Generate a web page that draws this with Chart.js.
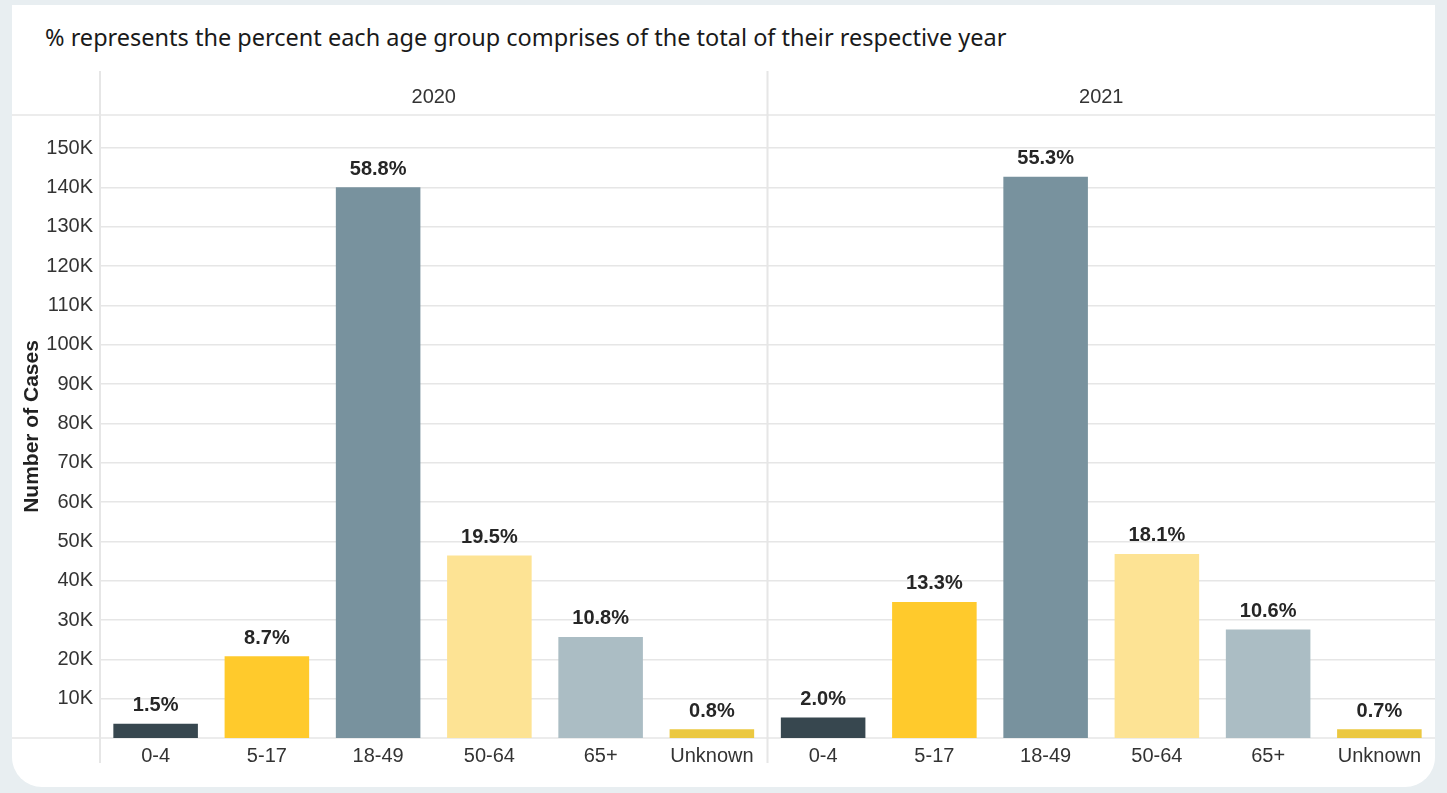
<!DOCTYPE html>
<html>
<head>
<meta charset="utf-8">
<script src="https://cdn.jsdelivr.net/npm/chart.js@4.4.1/dist/chart.umd.min.js"></script>
<style>
  html, body { margin: 0; padding: 0; width: 1447px; height: 793px; overflow: hidden; background: #e8eef1; }
  #card { position: absolute; left: 12px; top: 5px; width: 1423px; height: 782px; background: #fff; border-radius: 0 0 30px 30px; }
  #note { position: absolute; left: 33px; top: 16px; line-height: 32px; font-family: 'Noto Sans', sans-serif; font-size: 23.5px; color: #1a1a1a; white-space: nowrap; }
  #wrap { position: absolute; left: 0; top: 66px; width: 1423px; height: 700px; }
</style>
</head>
<body>
<div id="card">
  <div id="note">% represents the percent each age group comprises of the total of their respective year</div>
  <div id="wrap"><canvas id="ageChart" width="1423" height="700"></canvas></div>
</div>
<script>
const years = ['2020', '2021'];
const ageGroups = ['0-4', '5-17', '18-49', '50-64', '65+', 'Unknown'];
const cases2020 = [3600, 20800, 140000, 46400, 25700, 2200];
const cases2021 = [5200, 34600, 142700, 46800, 27600, 2200];
const pct2020 = [1.5, 8.7, 58.8, 19.5, 10.8, 0.8];
const pct2021 = [2.0, 13.3, 55.3, 18.1, 10.6, 0.7];
const yTicks = [10000, 20000, 30000, 40000, 50000, 60000, 70000, 80000,
                90000, 100000, 110000, 120000, 130000, 140000, 150000];

const ageColors = [
  '#37474f', // 0-4 slate
  '#ffca2c', // 5-17 yellow
  '#78929e', // 18-49 blue grey
  '#fde394', // 50-64 pale yellow
  '#abbdc4', // 65+ light grey
  '#ebc841'  // unknown mustard
];

const GRID = '#e6e6e6';
const TEXT = '#333';
const FONT = "'Liberation Sans', Arial, sans-serif";

const labels = ageGroups.concat(ageGroups);
const values = cases2020.concat(cases2021);
const pcts = pct2020.concat(pct2021);

// panel frame: header rule, baseline and the two vertical dividers
const panelLines = {
  id: 'panelLines',
  beforeDatasetsDraw(chart) {
    const {ctx, chartArea: a} = chart;
    const x = chart.scales.x;
    const mid = (x.getPixelForValue(ageGroups.length - 1) + x.getPixelForValue(ageGroups.length)) / 2;
    ctx.save();
    ctx.strokeStyle = GRID;
    ctx.lineWidth = 1.5;
    ctx.beginPath();
    ctx.moveTo(0, a.top); ctx.lineTo(a.right, a.top);
    ctx.moveTo(0, a.bottom); ctx.lineTo(a.right, a.bottom);
    ctx.stroke();
    ctx.lineWidth = 2;
    ctx.beginPath();
    [a.left, mid].forEach(px => {
      ctx.moveTo(px, 0); ctx.lineTo(px, a.bottom + 25);
    });
    ctx.stroke();
    ctx.restore();
  }
};

// percent labels over each bar
const pctLabels = {
  id: 'pctLabels',
  afterDatasetsDraw(chart) {
    const {ctx} = chart;
    const meta = chart.getDatasetMeta(0);
    ctx.save();
    ctx.font = 'bold 20px ' + FONT;
    ctx.fillStyle = '#262626';
    ctx.textAlign = 'center';
    ctx.textBaseline = 'middle';
    meta.data.forEach((bar, i) => {
      ctx.fillText(pcts[i].toFixed(1) + '%', bar.x, bar.y - 18);
    });
    ctx.restore();
  }
};

const config = {
  type: 'bar',
  data: {
    labels: labels,
    datasets: [{
      data: values,
      backgroundColor: labels.map((l, i) => ageColors[i % ageGroups.length]),
      categoryPercentage: 1,
      barPercentage: 0.76
    }]
  },
  options: {
    responsive: false,
    animation: false,
    devicePixelRatio: 1,
    layout: { padding: 0 },
    plugins: {
      legend: { display: false },
      tooltip: { enabled: false }
    },
    scales: {
      x: {
        type: 'category',
        position: 'bottom',
        offset: true,
        grid: { display: false, drawTicks: false },
        border: { display: false },
        ticks: { color: TEXT, font: { family: FONT, size: 20 }, padding: 6, maxRotation: 0, autoSkip: false },
        afterFit: s => { s.height = 33; }
      },
      x2: {
        type: 'category',
        position: 'top',
        labels: years,
        offset: true,
        grid: { display: false, drawTicks: false },
        border: { display: false },
        ticks: { color: TEXT, font: { family: FONT, size: 20 }, padding: 6, maxRotation: 0 },
        afterFit: s => { s.height = 44; }
      },
      y: {
        min: 0,
        max: 158400,
        afterBuildTicks: s => { s.ticks = yTicks.map(v => ({ value: v })); },
        grid: { color: GRID, lineWidth: 1.5, drawTicks: false },
        border: { display: false },
        ticks: {
          padding: 7,
          color: TEXT,
          font: { family: FONT, size: 20 },
          callback: v => (v / 1000) + 'K'
        },
        title: {
          display: true,
          text: 'Number of Cases',
          color: '#222',
          font: { family: FONT, size: 21, weight: 'bold' },
          padding: { top: 8, bottom: 0 }
        },
        afterFit: s => { s.width = 88; }
      }
    }
  },
  plugins: [panelLines, pctLabels]
};

const ctx = document.querySelector('#ageChart').getContext('2d');
new Chart(ctx, config);
</script>
</body>
</html>
